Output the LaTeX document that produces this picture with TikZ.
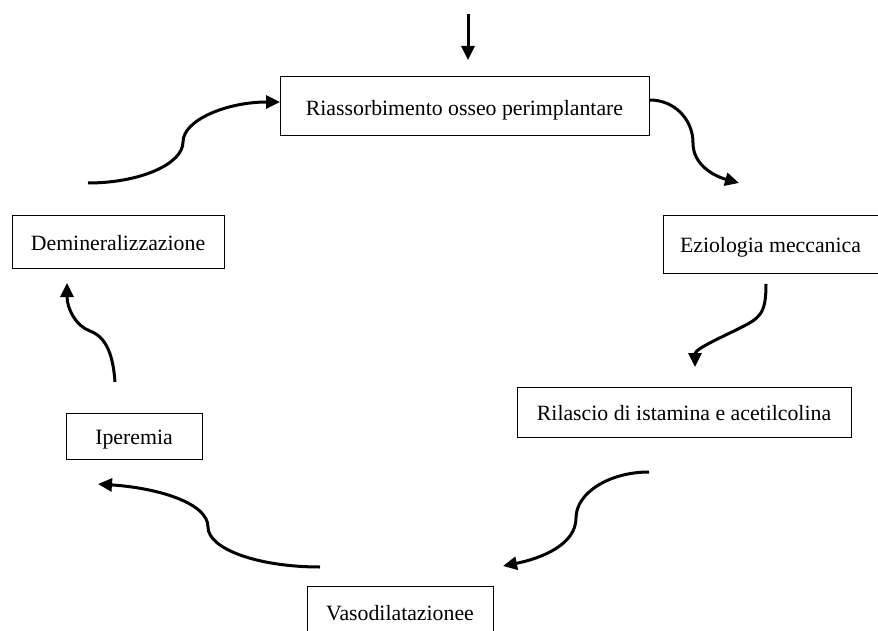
\documentclass[tikz,border=0pt]{standalone}
\usepackage{fontspec}
\setmainfont{Liberation Serif}
\usetikzlibrary{arrows.meta}

\begin{document}
\begin{tikzpicture}[x=0.5pt,y=-0.5pt,
  box/.style={draw,line width=0.5pt,inner sep=0pt,text height=8.8pt,text depth=0pt,
    font=\fontsize{10.9}{13}\selectfont},
  flow/.style={line width=1.5pt,-{Triangle[length=7pt,width=6.5pt]}}]
 \useasboundingbox (0,0) rectangle (878,631);
 \node[box,minimum width=184.5pt,minimum height=29.5pt] (riass) at (464.5,106.5) {Riassorbimento osseo perimplantare};
 \node[box,minimum width=107.5pt,minimum height=29pt] (ezio) at (770.5,244) {Eziologia meccanica};
 \node[box,minimum width=167pt,minimum height=25pt] (ril) at (684,412) {Rilascio di istamina e acetilcolina};
 \node[box,minimum width=93pt,minimum height=26pt] (vaso) at (400,612) {Vasodilatazionee};
 \node[box,minimum width=68pt,minimum height=23pt] (iper) at (134,436) {Iperemia};
 \node[box,minimum width=106pt,minimum height=26.5pt] (dem) at (118,241.5) {Demineralizzazione};

 \coordinate (top_in) at (468,14);
 \coordinate (riass_in) at (468,60);
 \coordinate (riass_a) at (650,100);
 \coordinate (ezio_b) at (739,183);
 \coordinate (ezio_a) at (766,284);
 \coordinate (ril_b) at (695,367);
 \coordinate (ril_a) at (649,472);
 \coordinate (vaso_b) at (503,566);
 \coordinate (vaso_a) at (320,567);
 \coordinate (iper_b) at (98,484);
 \coordinate (iper_a) at (115,382);
 \coordinate (dem_b) at (67,283);
 \coordinate (dem_a) at (88,183);
 \coordinate (riass_b) at (280,102);

 \draw[flow] (top_in) -- (riass_in);
 % riassorbimento -> eziologia
 \draw[flow] (riass_a) .. controls +(24,0) and +(0,-24) .. (693,143)
   .. controls +(0,22) and +(-25,-7) .. (ezio_b);
 % eziologia -> rilascio
 \draw[flow] (ezio_a) .. controls +(0,30) and +(20,-10) .. (740,328)
   .. controls +(-20,10) and +(0,-18) .. (ril_b);
 % rilascio -> vasodilatazione
 \draw[flow] (ril_a) .. controls +(-40,0) and +(0,-25) .. (576,518)
   .. controls +(0,26) and +(40,-8) .. (vaso_b);
 % vasodilatazione -> iperemia
 \draw[flow] (vaso_a) .. controls +(-62,0) and +(0,22) .. (208,527)
   .. controls +(0,-24) and +(60,4) .. (iper_b);
 % iperemia -> demineralizzazione
 \draw[flow] (iper_a) .. controls +(-2,-28) and +(16,6) .. (90,331)
   .. controls +(-14,-5) and +(0,26) .. (dem_b);
 % demineralizzazione -> riassorbimento
 \draw[flow] (dem_a) .. controls +(52,0) and +(0,22) .. (183,142)
   .. controls +(0,-22) and +(-53,0) .. (riass_b);
\end{tikzpicture}
\end{document}
